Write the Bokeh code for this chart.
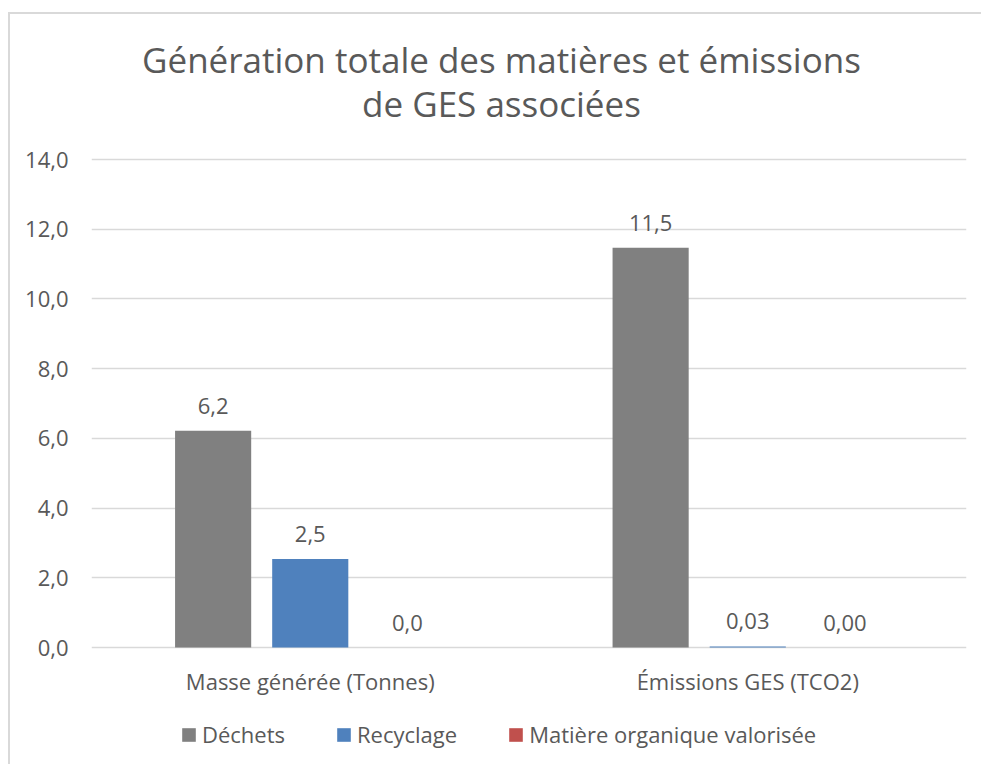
from bokeh.plotting import figure
from bokeh.models import (ColumnDataSource, FactorRange, Range1d, CustomJSTickFormatter,
                          Legend, LegendItem, Label, InlineStyleSheet)
from bokeh.transform import dodge
from bokeh.core.properties import value
from bokeh.embed import file_html
from bokeh.resources import INLINE

# ---- data ----
categories = ["Masse générée (Tonnes)", "Émissions GES (TCO2)"]
series_names = ["Déchets", "Recyclage", "Matière organique valorisée"]
dechets = [6.22, 11.47]
recyclage = [2.54, 0.03]
matiere = [0.0, 0.0]
dechets_labels = ["6,2", "11,5"]
recyclage_labels = ["2,5", "0,03"]
matiere_labels = ["0,0", "0,00"]
series_colors = ["#808080", "#4F81BD", "#C0504D"]
y_ticks = [0, 2, 4, 6, 8, 10, 12, 14]
title_lines = ["Génération totale des matières et émissions", "de GES associées"]

FONT = "Open Sans"
TXT = "#595959"
FS = "22px"

# layout (pixels): value axis spans 488 px for 0..14; the frame also holds title and legend
AXIS_PX = 488
AXIS_MAX = 14
PPU = AXIS_PX / AXIS_MAX
PX_ABOVE = 140   # frame space above the 14 line (title area)
PX_BELOW = 112   # frame space below the 0 line (category labels + legend)
FRAME_H = AXIS_PX + PX_ABOVE + PX_BELOW

p = figure(frame_width=875, frame_height=FRAME_H, output_backend="svg", toolbar_location=None,
           x_range=FactorRange(*categories, range_padding=0),
           y_range=Range1d(-PX_BELOW / PPU, AXIS_MAX + PX_ABOVE / PPU), title=None,
           min_border_left=91, min_border_right=7, min_border_top=19,
           min_border_bottom=4)

# title (two centred lines above the plotting area)
for line, px_above in zip(title_lines, [100, 56]):
    p.add_layout(Label(x=0.937, y=AXIS_MAX + px_above / PPU, text=line,
                       text_align="center", text_baseline="middle",
                       text_font=FONT, text_font_size="35px", text_color=TXT))

offsets = [-0.222, 0.0, 0.222]
renderers = []
for name, vals, labs, col, off in zip(series_names, [dechets, recyclage, matiere],
                                      [dechets_labels, recyclage_labels, matiere_labels],
                                      series_colors, offsets):
    src = ColumnDataSource(dict(cat=categories, val=vals, lab=labs))
    r = p.vbar(x=dodge("cat", off, range=p.x_range), top="val", width=0.174, source=src,
               fill_color=col, line_color=None)
    p.text(x=dodge("cat", off, range=p.x_range), y="val", text="lab", source=src,
           text_align="center", text_baseline="middle", y_offset=-25,
           text_font=value(FONT), text_font_size=FS, text_color=TXT)
    renderers.append((name, r))

# category labels under the baseline
cat_src = ColumnDataSource(dict(cat=categories, base=[0] * len(categories)))
p.text(x="cat", y="base", text="cat", source=cat_src, text_align="center",
       text_baseline="middle", y_offset=33, text_font=value(FONT), text_font_size=FS,
       text_color=TXT)

legend = Legend(items=[LegendItem(label=n, renderers=[r]) for n, r in renderers],
                orientation="horizontal", location=(89, 10),
                label_text_font=FONT, label_text_font_size=FS, label_text_color=TXT,
                glyph_width=17, glyph_height=17, spacing=50, label_standoff=5,
                border_line_color=None, background_fill_alpha=0, margin=0, padding=0)
p.add_layout(legend, "center")

p.yaxis.ticker = y_ticks
p.yaxis.formatter = CustomJSTickFormatter(code="return tick.toFixed(1).replace('.', ',');")
p.yaxis.axis_line_color = None
p.yaxis.major_tick_line_color = None
p.yaxis.minor_tick_line_color = None
p.yaxis.major_label_text_font = FONT
p.yaxis.major_label_text_font_size = FS
p.yaxis.major_label_text_color = TXT
p.yaxis.major_label_standoff = 17

p.xaxis.visible = False
p.xgrid.grid_line_color = None
p.ygrid.ticker = y_ticks
p.ygrid.grid_line_color = "#d9d9d9"
p.ygrid.grid_line_width = 1.5
p.outline_line_color = None

# light chart-area border on top and left (as in the reference crop)
p.stylesheets = [InlineStyleSheet(css="""
:host { position: relative; }
:host::after { content: ""; position: absolute; left: 8px; top: 12px; right: -20px; bottom: -20px;
  border-left: 2px solid #d9d9d9; border-top: 2px solid #d9d9d9; pointer-events: none; }
""")]

open("out.html", "w").write(file_html(p, INLINE))
